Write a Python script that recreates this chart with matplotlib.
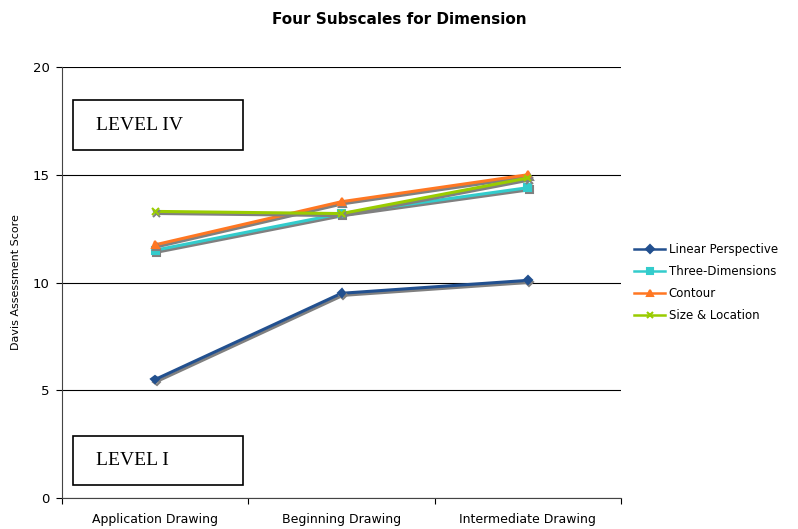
import matplotlib.pyplot as plt
import matplotlib.patheffects as pe

# scores per drawing course
courses = ['Application Drawing', 'Beginning Drawing', 'Intermediate Drawing']
linear_perspective = [5.5, 9.5, 10.1]
three_dimensions = [11.5, 13.2, 14.4]
contour = [11.75, 13.75, 15.0]
size_location = [13.3, 13.2, 14.85]

series = [
    ('Linear Perspective', linear_perspective, '#22508f', 'D', 4),
    ('Three-Dimensions', three_dimensions, '#33cccc', 's', 5),
    ('Contour', contour, '#ff7722', '^', 5),
    ('Size & Location', size_location, '#99cc00', 'x', 5),
]

plt.rcParams['font.family'] = ['DejaVu Sans']

fig = plt.figure(figsize=(7.98, 5.29), dpi=100)
ax = fig.add_axes([0.0777, 0.0586, 0.7005, 0.8147])

x = [0.5, 1.5, 2.5]
shadow = [pe.SimpleLineShadow(offset=(1, -1.5), shadow_color='#808080', alpha=1.0),
          pe.Normal()]
for name, vals, col, mk, ms in series:
    ax.plot(x, vals, color=col, lw=2.2, marker=mk, markersize=ms,
            markeredgewidth=1.5, label=name, path_effects=shadow, zorder=3)

ax.set_xlim(0, 3)
ax.set_ylim(0, 20)
ax.set_yticks([0, 5, 10, 15, 20])
ax.set_xticks([0, 1, 2, 3])
ax.set_xticklabels([])
ax.set_xticks(x, minor=True)
ax.set_xticklabels(courses, minor=True, fontsize=9)
ax.tick_params(axis='x', which='minor', length=0, pad=11)
ax.tick_params(axis='x', which='major', length=4, direction='out')
ax.tick_params(axis='y', length=4, direction='out', labelsize=9.5, pad=5)
ax.grid(axis='y', color='black', lw=0.8)
ax.set_axisbelow(True)
for s in ['top', 'right']:
    ax.spines[s].set_visible(False)
ax.spines['left'].set_color('#444444')
ax.spines['bottom'].set_color('#444444')
ax.set_ylabel('Davis Assessment Score', fontsize=8, labelpad=8)

fig.text(0.5, 0.963, 'Four Subscales for Dimension', ha='center', va='center',
         fontsize=11, fontweight='bold')

# level boxes
for label, y0, y1 in [('LEVEL IV', 100, 150), ('LEVEL I', 436, 485)]:
    ax.add_patch(plt.Rectangle((73 / 798, 1 - y1 / 529), 170 / 798, (y1 - y0) / 529,
                               transform=fig.transFigure, fill=False, ec='black',
                               lw=1.2, zorder=4, clip_on=False))
    fig.text(96 / 798, 1 - (y0 + y1) / 2 / 529, label, family='Liberation Serif',
             fontsize=14, va='center', ha='left')

leg = ax.legend(loc='center left', bbox_to_anchor=(1.005, 0.50), frameon=False,
                fontsize=8.5, handlelength=2.6, handletextpad=0.3, labelspacing=0.75)
for h in leg.get_lines():
    h.set_path_effects([])
    h.set_linewidth(1.8)

fig.savefig('out.png', dpi=100)
